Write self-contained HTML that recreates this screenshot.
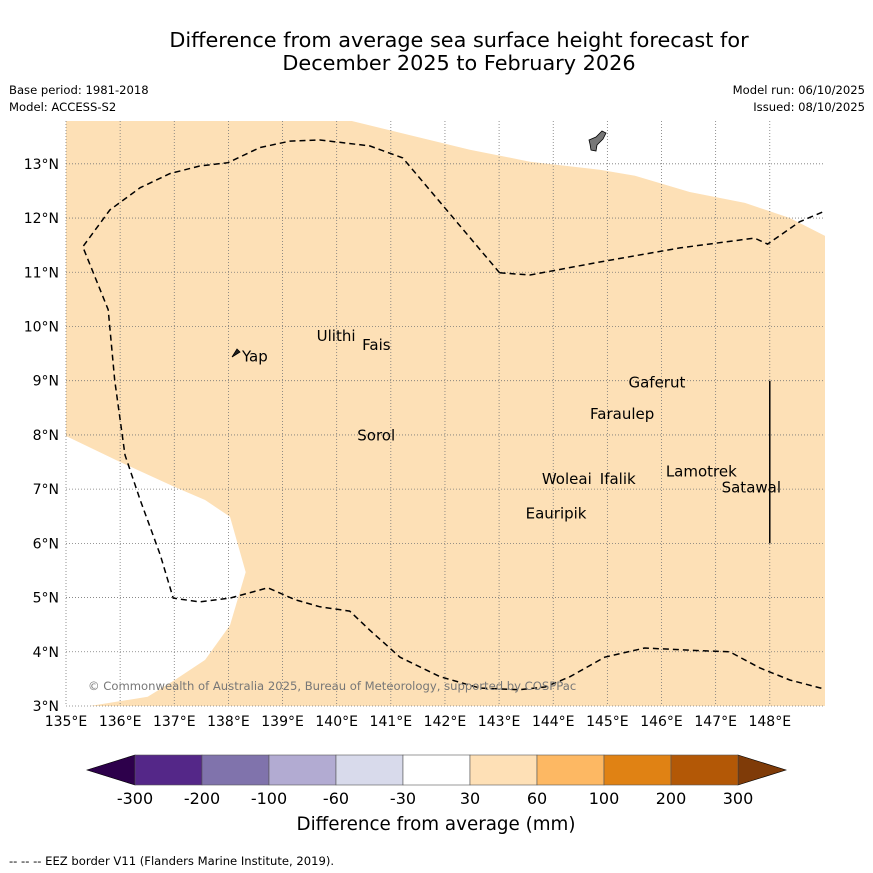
<!DOCTYPE html>
<html><head><meta charset="utf-8"><style>
html,body{margin:0;padding:0;background:#fff;}
svg{display:block;font-family:"DejaVu Sans","Liberation Sans",sans-serif;}
</style></head><body>
<svg id="chart" width="873" height="873" viewBox="0 0 873 873">
<text x="459" y="47" font-size="20.8" text-anchor="middle">Difference from average sea surface height forecast for</text>
<text x="459" y="70" font-size="20.8" text-anchor="middle">December 2025 to February 2026</text>
<text x="9" y="94" font-size="11.6">Base period: 1981-2018</text>
<text x="9" y="111" font-size="11.6">Model: ACCESS-S2</text>
<text x="865" y="94" font-size="11.6" text-anchor="end">Model run: 06/10/2025</text>
<text x="865" y="111" font-size="11.6" text-anchor="end">Issued: 08/10/2025</text>
<g id="map"></g>
<g id="cbar"></g>
<text x="436" y="830" font-size="18.3" text-anchor="middle">Difference from average (mm)</text>
<text x="9" y="865" font-size="11.6">--  --  -- EEZ border V11 (Flanders Marine Institute, 2019).</text>
</svg>
<script>
const lonTicks=[135,136,137,138,139,140,141,142,143,144,145,146,147,148];
const latTicks=[3,4,5,6,7,8,9,10,11,12,13];
const landAnomaly=[[140.28,13.79],[141.72,13.44],[142.46,13.26],[143.57,13.04],[144.86,12.89],[145.51,12.78],[146.52,12.48],[147.54,12.28],[148.37,12.0],[149.02,11.67],[149.02,3.0],[135.44,3.0],[136.51,3.17],[137.01,3.48],[137.57,3.85],[138.03,4.49],[138.32,5.47],[138.03,6.49],[137.57,6.8],[137.01,7.04],[136.0,7.5],[135.0,7.98],[135.0,13.79]];
const eezMain=[[143.01,10.99],[141.22,13.11],[140.61,13.33],[139.69,13.44],[139.14,13.42],[138.58,13.3],[137.99,13.02],[137.47,12.96],[136.92,12.82],[136.37,12.56],[135.81,12.15],[135.31,11.47],[135.78,10.31],[135.9,9.01],[136.09,7.63],[136.37,6.8],[136.74,5.79],[136.98,4.99],[137.47,4.92],[138.03,4.99],[138.73,5.18],[139.23,4.96],[139.69,4.83],[140.24,4.75],[140.61,4.4],[141.17,3.9],[141.91,3.54],[142.65,3.33],[143.38,3.3],[143.85,3.35],[144.31,3.54],[144.95,3.9],[145.69,4.07],[146.52,4.03],[147.26,4.0],[147.82,3.7],[148.37,3.48],[149.02,3.31]];
const eezBranch=[[143.01,10.99],[143.57,10.95],[144.86,11.19],[146.34,11.45],[147.72,11.63],[147.96,11.52],[148.55,11.93],[149.02,12.13]];
const islandNames=["Yap","Ulithi","Fais","Gaferut","Faraulep","Sorol","Woleai","Ifalik","Lamotrek","Satawal","Eauripik"];
const islandLon=[138.25,139.63,140.47,145.39,144.68,140.38,143.79,144.86,146.08,147.11,143.49];
const islandLat=[9.52,9.9,9.73,9.04,8.46,8.06,7.26,7.26,7.4,7.1,6.62];
const cbarBounds=["-300","-200","-100","-60","-30","30","60","100","200","300"];
const cbarColors=["#542788","#8073ac","#b2abd2","#d8daeb","#ffffff","#fee0b6","#fdb863","#e08214","#b35806"];
const NS="http://www.w3.org/2000/svg";
const X0=66,X1=825,Y0=121,Y1=706,LON0=135,LON1=149.02,LAT0=3,LAT1=13.79;
const xs=l=>X0+(l-LON0)/(LON1-LON0)*(X1-X0);
const ys=l=>Y1-(l-LAT0)/(LAT1-LAT0)*(Y1-Y0);
function mk(tag,attrs,parent){const e=document.createElementNS(NS,tag);for(const k in attrs)e.setAttribute(k,attrs[k]);parent.appendChild(e);return e;}
const map=document.getElementById('map');
const clip=mk('clipPath',{id:'mc'},map);mk('rect',{x:X0,y:Y0,width:X1-X0,height:Y1-Y0},clip);
const pts=a=>a.map(p=>xs(p[0]).toFixed(1)+','+ys(p[1]).toFixed(1)).join(' ');
let e=mk('polygon',{points:pts(landAnomaly),fill:'#fde0b6'},map);


lonTicks.forEach(l=>{
 let g=mk('line',{x1:xs(l),x2:xs(l),y1:Y0,y2:Y1,stroke:'#777','stroke-width':0.8,'stroke-dasharray':'1,2'},map);
 
 
 let t=mk('text',{x:xs(l),y:Y1+20,'font-size':14,'text-anchor':'middle'},map);t.textContent=l+'°E';
 
 
});
latTicks.forEach(l=>{
 let g=mk('line',{x1:X0,x2:X1,y1:ys(l),y2:ys(l),stroke:'#777','stroke-width':0.8,'stroke-dasharray':'1,2'},map);
 
 
 let t=mk('text',{x:X0-7,y:ys(l)+5,'font-size':14,'text-anchor':'end'},map);t.textContent=l+'°N';
 
 
});
[eezMain,eezBranch].forEach(a=>{
 let p=mk('polyline',{points:pts(a),fill:'none',stroke:'#000','stroke-width':1.5,'stroke-dasharray':'6,4','clip-path':'url(#mc)'},map);
 
 
});
let v=mk('line',{x1:xs(148),x2:xs(148),y1:ys(6),y2:ys(9),stroke:'#000','stroke-width':1.5},map);


let guam=mk('path',{d:'M589,140 L596,137 L602,131 L606,133 L603,139 L597,145 L596,151 L591,150 L590,144 Z',fill:'#777',stroke:'#000','stroke-width':0.8},map);


let yap=mk('path',{d:'M232,357 L237,349 L240,352 Z',fill:'#222',stroke:'#000','stroke-width':0.8},map);


islandNames.forEach((n,i)=>{
 let t=mk('text',{x:xs(islandLon[i]),y:ys(islandLat[i])+9,'font-size':15},map);t.textContent=n;
 
 
});
let c=mk('text',{x:88,y:690,'font-size':11.6,fill:'#777'},map);c.textContent='© Commonwealth of Australia 2025, Bureau of Meteorology, supported by COSPPac';


const cb=document.getElementById('cbar');
const CX0=135,CX1=738,CY=755,CH=30,n=cbarColors.length,w=(CX1-CX0)/n;
let la=mk('polygon',{points:`${CX0},${CY} ${CX0},${CY+CH} 87,${CY+CH/2}`,fill:'#2d004b',stroke:'#000','stroke-width':0.6},cb);


let ra=mk('polygon',{points:`${CX1},${CY} ${CX1},${CY+CH} 786,${CY+CH/2}`,fill:'#7f3b08',stroke:'#000','stroke-width':0.6},cb);


cbarColors.forEach((col,i)=>{
 let r=mk('rect',{x:CX0+i*w,y:CY,width:w,height:CH,fill:col,stroke:'#555','stroke-width':0.6},cb);
 
 
});
cbarBounds.forEach((b,i)=>{
 let t=mk('text',{x:CX0+i*w,y:804,'font-size':16,'text-anchor':'middle'},cb);t.textContent=b;
 
 
});
</script>
</body></html>
